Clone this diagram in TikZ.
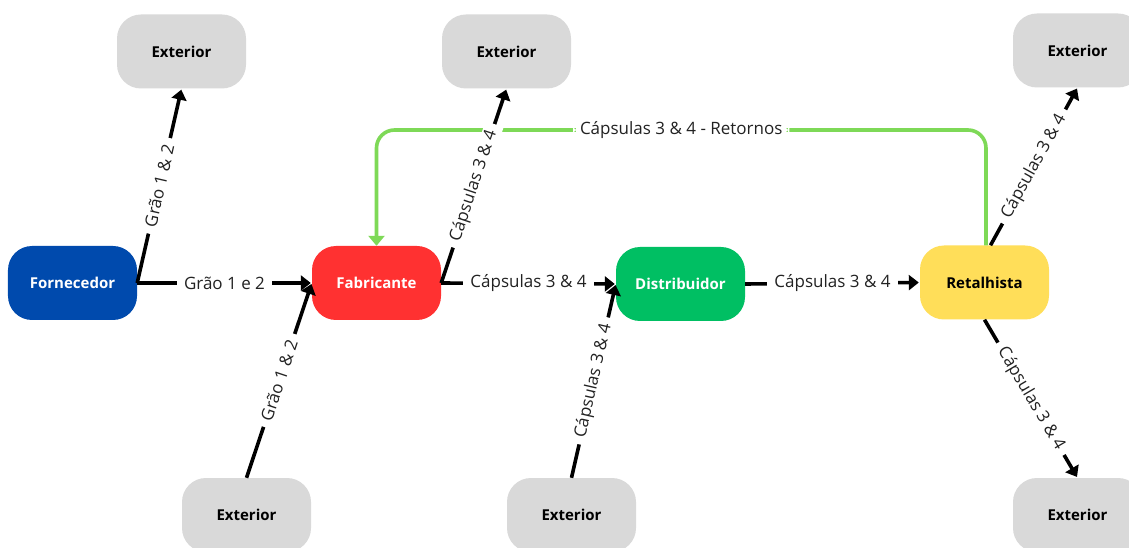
\documentclass[tikz,border=0pt]{standalone}
\usepackage{fontspec}
\setmainfont{Open Sans}
\usetikzlibrary{arrows.meta}
\definecolor{cblue}{HTML}{004AAD}
\definecolor{cred}{HTML}{FF3131}
\definecolor{cgreen}{HTML}{00BF63}
\definecolor{cyellow}{HTML}{FFDE59}
\definecolor{cgray}{HTML}{D9D9D9}
\definecolor{cline}{HTML}{7ED957}
\definecolor{ctext}{HTML}{222222}
\tikzset{
  box/.style={rectangle, rounded corners=24bp, minimum width=129bp, minimum height=74bp,
    inner sep=0pt, font=\fontsize{15bp}{18bp}\selectfont\bfseries},
  extbox/.style={box, fill=cgray, text=black},
  flow/.style={line width=3.6bp, black, -{Triangle[length=10bp,width=15bp]}, shorten >=1bp},
  lbl/.style={fill=white, inner xsep=7bp, inner ysep=1bp, text=ctext,
    font=\fontsize{17bp}{20bp}\selectfont},
  ret/.style={line width=3.6bp, cline, rounded corners=18bp, -{Triangle[length=10bp,width=16bp]}}
}
\begin{document}
\begin{tikzpicture}[x=1bp,y=-1bp]
\useasboundingbox (0,0) rectangle (1129,548);
\fill[white] (0,0) rectangle (1129,548);
% main nodes
\node[box, fill=cblue, text=white] (forn) at (72.5,283) {Fornecedor};
\node[box, fill=cred, text=white] (fabr) at (376.5,283) {Fabricante};
\node[box, fill=cgreen, text=white] (dist) at (680.5,284) {Distribuidor};
\node[box, fill=cyellow, text=black] (reta) at (984.5,282.5) {Retalhista};
% exterior nodes
\node[extbox] (ext1) at (181.5,51.5) {Exterior};
\node[extbox] (ext2) at (506.5,51.5) {Exterior};
\node[extbox] (ext3) at (1077.5,50.5) {Exterior};
\node[extbox] (ext4) at (246.5,515) {Exterior};
\node[extbox] (ext5) at (571.5,515) {Exterior};
\node[extbox] (ext6) at (1077.5,515) {Exterior};
% return loop
\coordinate (top) at (0,130);
\draw[ret] ([xshift=1.5bp]reta.north) -- ([xshift=1.5bp]reta.north |- top)
  -- node[lbl, pos=0.5] {Cápsulas 3 \& 4 - Retornos} (fabr.north |- top) -- (fabr.north);
% flows
\draw[flow] (forn.east) -- node[lbl] {Grão 1 e 2} (fabr.west);
\draw[flow] (forn.east) -- node[lbl, sloped] {Grão 1 \& 2} (ext1.south);
\draw[flow] (ext4.north) -- node[lbl, sloped] {Grão 1 \& 2} (fabr.west);
\draw[flow] (fabr.east) -- node[lbl, sloped] {Cápsulas 3 \& 4} (ext2.south);
\draw[flow] (fabr.east) -- node[lbl] {Cápsulas 3 \& 4} (dist.west);
\draw[flow] (ext5.north) -- node[lbl, sloped] {Cápsulas 3 \& 4} (dist.west);
\draw[flow] (dist.east) -- node[lbl] {Cápsulas 3 \& 4} (reta.west);
\draw[flow] ([xshift=6bp]reta.north) -- node[lbl, sloped] {Cápsulas 3 \& 4} (ext3.south);
\draw[flow] (reta.south) -- node[lbl, sloped] {Cápsulas 3 \& 4} (ext6.north);
\end{tikzpicture}
\end{document}
